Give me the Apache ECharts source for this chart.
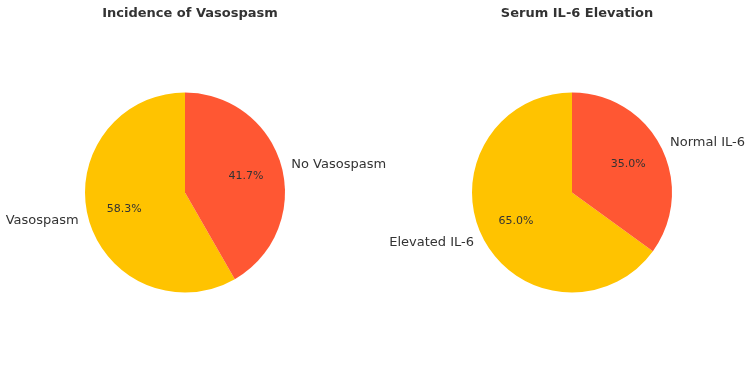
<!DOCTYPE html>
<html>
<head>
<meta charset="utf-8">
<script src="https://cdn.jsdelivr.net/npm/echarts@6/dist/echarts.min.js"></script>
<style>
  html, body { margin: 0; padding: 0; background: #fff; }
  #chart { width: 750px; height: 370px; }
</style>
</head>
<body>
<div id="chart"></div>
<script>
// data
var vasoLabels = ['Vasospasm', 'No Vasospasm']
var vasoValues = [58.3, 41.7]
var il6Labels = ['Elevated IL-6', 'Normal IL-6']
var il6Values = [65.0, 35.0]
var sliceColors = ['#FFC300', '#FF5733']

var font = 'DejaVu Sans, sans-serif'
var textColor = '#333333'

function toData(labels, values) {
  return labels.map(function (name, i) {
    return { name: name, value: values[i], itemStyle: { color: sliceColors[i] } }
  })
}

// main pie with the outside names, matplotlib style (label at 1.1 r)
function pieSeries(labels, values, center) {
  return {
    type: 'pie',
    center: center,
    radius: 100,
    startAngle: 90,
    clockwise: false,
    avoidLabelOverlap: false,
    silent: true,
    emphasis: { disabled: true },
    label: {
      show: true,
      position: 'outside',
      formatter: '{b}',
      fontFamily: font,
      fontSize: 13,
      color: textColor,
      distanceToLabelLine: 0
    },
    labelLine: { show: false, length: 10, length2: 0 },
    data: toData(labels, values)
  }
}

// transparent overlay, radius 120 so the inside label sits at 0.6 r
function pctSeries(labels, values, center) {
  return {
    type: 'pie',
    center: center,
    radius: 120,
    startAngle: 90,
    clockwise: false,
    avoidLabelOverlap: false,
    silent: true,
    emphasis: { disabled: true },
    itemStyle: { color: 'transparent' },
    label: {
      show: true,
      position: 'inside',
      formatter: function (p) { return p.percent.toFixed(1) + '%' },
      fontFamily: font,
      fontSize: 11,
      color: textColor
    },
    labelLine: { show: false },
    data: labels.map(function (name, i) {
      return { name: name, value: values[i], itemStyle: { color: 'transparent' } }
    })
  }
}

var leftCenter = [185, 192.5]
var rightCenter = [572, 192.5]

var chart = echarts.init(document.getElementById('chart'), null, { renderer: 'canvas' })
chart.setOption({
  backgroundColor: '#ffffff',
  animation: false,
  title: [
    {
      text: 'Incidence of Vasospasm',
      left: 185, top: 2, textAlign: 'center',
      textStyle: { fontFamily: font, fontSize: 13, fontWeight: 'bold', color: textColor }
    },
    {
      text: 'Serum IL-6 Elevation',
      left: 572, top: 2, textAlign: 'center',
      textStyle: { fontFamily: font, fontSize: 13, fontWeight: 'bold', color: textColor }
    }
  ],
  series: [
    pieSeries(vasoLabels, vasoValues, leftCenter),
    pctSeries(vasoLabels, vasoValues, leftCenter),
    pieSeries(il6Labels, il6Values, rightCenter),
    pctSeries(il6Labels, il6Values, rightCenter)
  ]
})
</script>
</body>
</html>
